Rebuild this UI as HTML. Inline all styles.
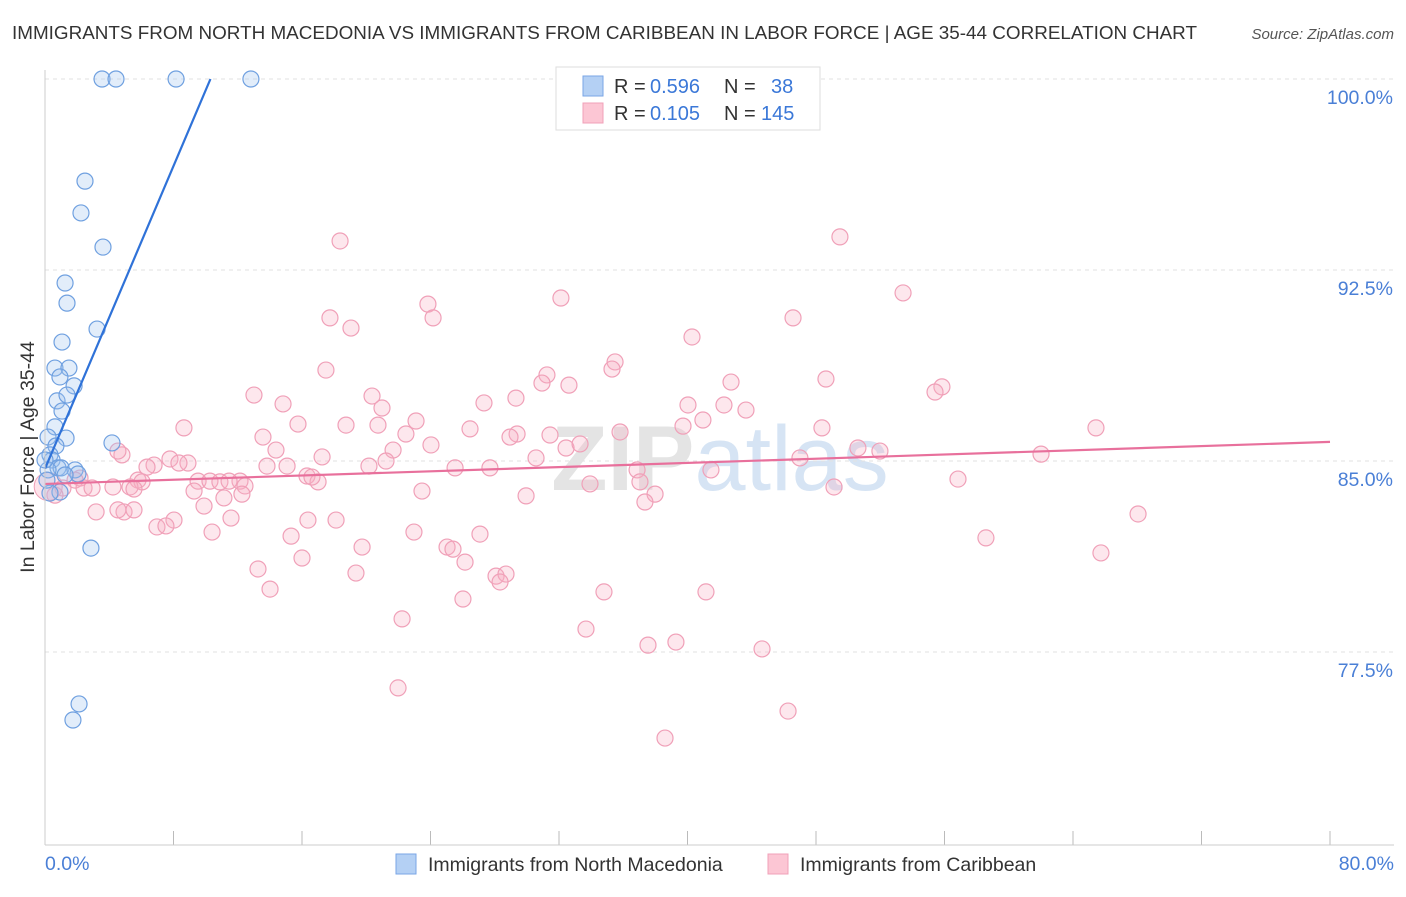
<!DOCTYPE html>
<html><head><meta charset="utf-8"><style>
body{margin:0;background:#fff;font-family:"Liberation Sans",sans-serif}
svg text{font-family:"Liberation Sans",sans-serif}
</style></head><body>
<svg id="c" width="1406" height="892" xmlns="http://www.w3.org/2000/svg">
<text x="12" y="39" font-size="18" fill="#333" textLength="1185" lengthAdjust="spacingAndGlyphs">IMMIGRANTS FROM NORTH MACEDONIA VS IMMIGRANTS FROM CARIBBEAN IN LABOR FORCE | AGE 35-44 CORRELATION CHART</text>
<text x="1394" y="39" font-size="15" fill="#555" font-style="italic" text-anchor="end">Source: ZipAtlas.com</text>
<text x="720" y="490" font-size="92" fill="#e4e4e4" text-anchor="middle" font-weight="bold">ZIP<tspan fill="#d6e4f4" font-weight="normal">atlas</tspan></text>
<g id="grid"></g><g id="pts"></g><g id="lines"></g>
<line x1="45" y1="845" x2="1394" y2="845" stroke="#ccc"/>
<line x1="45" y1="70" x2="45" y2="845" stroke="#ccc"/>
<text x="45" y="870" font-size="19.5" fill="#4a7fd6">0.0%</text>
<text x="1394" y="870" font-size="19.5" fill="#4a7fd6" text-anchor="end">80.0%</text>
<text transform="translate(34,457) rotate(-90)" font-size="19.5" fill="#333" text-anchor="middle">In Labor Force | Age 35-44</text>
<g>
<rect x="556" y="67" width="264" height="63" fill="#fff" stroke="#ddd"/>
<rect x="583" y="76" width="20" height="20" fill="#b4d0f4" stroke="#7aa6e6"/>
<rect x="583" y="103" width="20" height="20" fill="#fcc6d4" stroke="#f0a0b8"/>
<text y="93" font-size="20" fill="#333"><tspan x="614">R =</tspan><tspan x="650" fill="#3b78d8">0.596</tspan><tspan x="724">N =</tspan><tspan x="771" fill="#3b78d8">38</tspan></text>
<text y="120" font-size="20" fill="#333"><tspan x="614">R =</tspan><tspan x="650" fill="#3b78d8">0.105</tspan><tspan x="724">N =</tspan><tspan x="761" fill="#3b78d8">145</tspan></text>
</g>
<g>
<rect x="396" y="854" width="20" height="20" fill="#b4d0f4" stroke="#7aa6e6"/>
<text x="428" y="871" font-size="19.5" fill="#333">Immigrants from North Macedonia</text>
<rect x="768" y="854" width="20" height="20" fill="#fcc6d4" stroke="#f0a0b8"/>
<text x="800" y="871" font-size="19.5" fill="#333">Immigrants from Caribbean</text>
</g>
</svg>
<script>
const yTicks=[100,92.5,85,77.5];
const yTickLabels=["100.0%","92.5%","85.0%","77.5%"];
const xTicks=[0,8,16,24,32,40,48,56,64,72,80];
const bluePx=[[102,79],[116,79],[176,79],[251,79],[85,181],[81,213],[103,247],[65,283],[67,303],[97,329],[62,342],[55,368],[69,368],[60,377],[74,386],[57,401],[67,395],[62,411],[55,427],[48,437],[66,438],[56,446],[50,455],[52,460],[58,468],[61,468],[75,470],[78,474],[48,470],[60,492],[50,493],[112,443],[91,548],[79,704],[73,720],[45,460],[47,480],[65,475]];
const pinkPx=[[340,241],[840,237],[561,298],[903,293],[428,304],[330,318],[433,318],[351,328],[692,337],[793,318],[615,362],[612,369],[326,370],[547,375],[542,383],[569,385],[731,382],[826,379],[942,387],[935,392],[254,395],[372,396],[516,398],[484,403],[283,404],[382,408],[746,410],[724,405],[688,405],[416,421],[346,425],[378,425],[298,424],[703,420],[184,428],[263,437],[406,434],[470,429],[620,432],[550,435],[517,434],[510,437],[683,426],[822,428],[1096,428],[276,450],[431,445],[393,450],[566,448],[580,444],[858,448],[880,451],[122,455],[118,451],[322,457],[170,459],[188,463],[179,463],[154,465],[147,467],[386,461],[536,458],[800,458],[1041,454],[267,466],[287,466],[369,466],[455,468],[490,468],[637,470],[711,470],[307,476],[318,482],[312,477],[198,481],[210,481],[240,481],[245,486],[220,482],[229,481],[138,480],[142,482],[80,478],[63,488],[75,480],[84,488],[92,488],[113,487],[130,487],[134,489],[194,491],[242,494],[422,491],[590,484],[640,482],[655,494],[645,502],[526,496],[834,487],[958,479],[224,498],[96,512],[124,512],[118,510],[134,510],[204,506],[231,518],[174,520],[157,527],[166,526],[212,532],[308,520],[336,520],[414,532],[480,534],[986,538],[1138,514],[291,536],[362,547],[447,547],[453,549],[1101,553],[302,558],[465,562],[496,576],[506,574],[500,582],[258,569],[356,573],[270,589],[604,592],[706,592],[463,599],[402,619],[586,629],[648,645],[676,642],[762,649],[398,688],[788,711],[665,738],[55,495]];
const blueX=bluePx.map(p=>+((p[0]-45)*80/1285).toFixed(2));
const blueY=bluePx.map(p=>+(100-(p[1]-79)*7.5/191).toFixed(2));
const pinkX=pinkPx.map(p=>+((p[0]-45)*80/1285).toFixed(2));
const pinkY=pinkPx.map(p=>+(100-(p[1]-79)*7.5/191).toFixed(2));
const blueTrend=[[0,84.7],[10.3,100]];
const pinkTrend=[[0,84.1],[80,85.75]];
const X=v=>45+v*1285/80, Y=v=>79+(100-v)*191/7.5;
const NS="http://www.w3.org/2000/svg";
function mk(t,a,p){const e=document.createElementNS(NS,t);for(const k in a)e.setAttribute(k,a[k]);p.appendChild(e);return e;}
const g=document.getElementById('grid');
yTicks.forEach((v,i)=>{
 const l=mk('line',{x1:45,x2:1394,y1:Y(v),y2:Y(v),stroke:'#e2e2e2','stroke-dasharray':'4,4'},g);
 
 
 const t=mk('text',{x:1393,y:Y(v)+25,'font-size':19.5,fill:'#4a7fd6','text-anchor':'end'},g);
 t.textContent=yTickLabels[i];
 
 
});
xTicks.forEach(v=>{
 const l=mk('line',{x1:X(v),x2:X(v),y1:831,y2:845,stroke:'#bbb'},g);
 
 
});
const P=document.getElementById('pts');
pinkX.forEach((x,i)=>{
 const c=mk('circle',{cx:X(x),cy:Y(pinkY[i]),r:8,fill:'rgba(250,175,195,0.3)',stroke:'#f0a0b8','stroke-width':1.2},P);
 
 
});
const big=mk('circle',{cx:X(0.2),cy:Y(84.0),r:14,fill:'rgba(250,175,195,0.35)',stroke:'#f0a0b8'},P);


blueX.forEach((x,i)=>{
 const c=mk('circle',{cx:X(x),cy:Y(blueY[i]),r:8,fill:'rgba(160,196,240,0.3)',stroke:'#6fa0e0','stroke-width':1.2},P);
 
 
});
const L=document.getElementById('lines');
const bl=mk('line',{x1:X(blueTrend[0][0]),y1:Y(blueTrend[0][1]),x2:X(blueTrend[1][0]),y2:Y(blueTrend[1][1]),stroke:'#2f72d8','stroke-width':2.2},L);


const pl=mk('line',{x1:X(pinkTrend[0][0]),y1:Y(pinkTrend[0][1]),x2:X(pinkTrend[1][0]),y2:Y(pinkTrend[1][1]),stroke:'#e8709c','stroke-width':2.2},L);


</script>
</body></html>
